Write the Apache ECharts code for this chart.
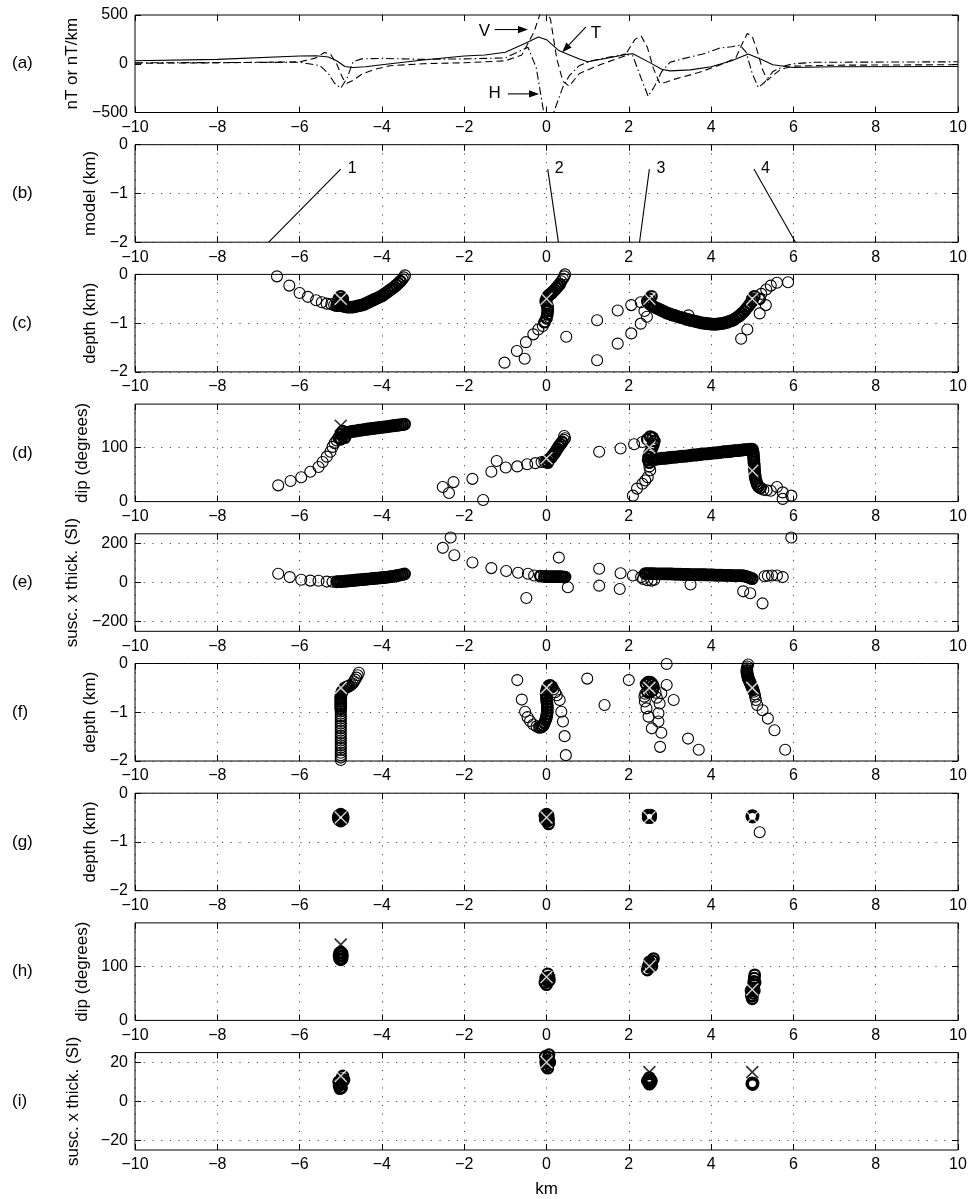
<!DOCTYPE html>
<html><head><meta charset="utf-8">
<script src="https://cdn.jsdelivr.net/npm/echarts@6/dist/echarts.min.js"></script>
<style>html,body{margin:0;padding:0;background:#fff}#c{width:970px;height:1199px}</style>
</head><body><div id="c"></div><script>
// ---------------- DATA ----------------
// (a) anomalies: T (solid), V (dashed), H (dash-dot)
const aTx = [-10,-8,-6,-5.6,-5.3,-5.1,-4.9,-4.7,-4.4,-4,-3,-2,-1.5,-1,-0.5,-0.2,0,0.3,0.5,0.8,1,1.5,2,2.1,2.5,2.8,3,3.5,4,4.5,4.9,5.2,5.5,6,7,10];
const aTy = [30,45,80,82,70,31,-28,-38,-31,-10,38,80,90,118,212,274,247,135,100,49,21,59,100,103,14,-56,-73,-63,-31,31,100,49,-10,-38,-30,-28];
const aVx = [-10,-8,-6,-5.6,-5.4,-5.25,-5.1,-4.95,-4.85,-4.7,-4.5,-4.2,-3.8,-3,-2,-1.5,-1,-0.6,-0.3,-0.15,0,0.1,0.25,0.4,0.55,0.8,1.3,1.9,2.15,2.3,2.45,2.6,2.75,2.9,3.1,3.7,4.3,4.6,4.75,4.88,5.0,5.12,5.25,5.37,5.5,5.7,6,7,10];
const aVy = [5,10,20,60,115,100,0,-150,-200,-170,-110,-60,-20,0,10,20,30,90,330,520,560,450,50,-180,-230,-100,-10,80,250,285,170,-50,-200,-190,-160,-90,0,60,200,310,280,135,-60,-170,-120,-55,-25,-15,-10];
const aHx = [-10,-8,-6,-5.5,-5.3,-5.15,-5.0,-4.85,-4.7,-4.5,-4,-3,-2,-1,-0.6,-0.45,-0.25,-0.05,0.14,0.39,0.55,0.79,1.1,1.5,1.9,2.1,2.3,2.47,2.6,2.8,3.0,3.3,3.8,4.2,4.5,4.7,4.85,5.0,5.15,5.3,5.5,5.8,6,6.5,10];
const aHy = [10,12,15,-20,-100,-200,-250,-150,20,50,55,45,50,60,140,170,-40,-540,-540,-247,-125,-21,31,66,100,80,-150,-333,-250,-80,15,50,100,160,175,190,120,-100,-245,-190,-80,-20,0,15,20];
const aLabels = ['V','T','H'];
const aLabelPos = [[-1.51,330],[1.2,309],[-1.26,-300]];
const aArrows = [[[-1.26,351],[-0.45,351]],[[0.96,378],[0.38,118]],[[-0.94,-309],[-0.18,-309]]];

// (b) model: bottom and top ends of the 4 dikes
const bModel = [[[-6.75,-2],[-5.0,-0.5]],[[0.29,-2],[0.03,-0.5]],[[2.26,-2],[2.5,-0.5]],[[6.05,-2],[5.04,-0.5]]];
const bNames = ['1','2','3','4'];

// true sources
const srcX = [-5, 0, 2.5, 5];
const srcDepth = [-0.5,-0.5,-0.5,-0.5];
const srcDip = [140, 80, 100, 57];
const srcSt = [13, 20, 15, 15];

// (c) depth estimates: scattered and densely overlapping
const cPts = [[-6.55,-0.04],[-6.25,-0.23],[-6.0,-0.38],[-5.8,-0.46],[-5.6,-0.53],[-5.46,-0.57],[-5.34,-0.6],[-5.23,-0.61],[-5.16,-0.63],
[-3.5,-0.1],[-3.47,-0.06],[-3.44,-0.02],
[-1.02,-1.81],[-0.72,-1.57],[-0.53,-1.73],[-0.5,-1.39],[-0.32,-1.23],[-0.2,-1.13],[-0.09,-1.06],[0.48,-1.28],[0.36,-0.14],[0.4,-0.09],[0.43,-0.04],[0.45,0.0],
[1.23,-1.76],[1.23,-0.94],[1.73,-0.74],[1.73,-1.42],[2.06,-1.21],[2.06,-0.63],[2.29,-1.01],[2.29,-0.57],[2.44,-0.87],[2.38,-0.75],
[5.22,-0.4],[5.34,-0.31],[5.45,-0.23],[5.6,-0.17],[5.87,-0.16],[5.33,-0.63],[5.18,-0.8],[4.88,-1.13],[4.73,-1.32],[3.45,-0.84]];
const cBand = [[-5.1,-0.64],[-5.05,-0.5],[-5.0,-0.45],[-4.95,-0.5],[-5.0,-0.55],[-4.95,-0.6],
[-5.05,-0.62],[-5.0,-0.64],[-4.95,-0.65],[-4.9,-0.66],[-4.85,-0.67],[-4.8,-0.67],[-4.75,-0.67],[-4.7,-0.67],[-4.65,-0.66],[-4.6,-0.65],[-4.55,-0.64],[-4.5,-0.63],[-4.45,-0.62],[-4.4,-0.6],[-4.35,-0.58],[-4.3,-0.56],[-4.25,-0.54],[-4.2,-0.52],[-4.15,-0.5],[-4.1,-0.48],[-4.05,-0.46],[-4.0,-0.44],[-3.95,-0.41],[-3.9,-0.38],[-3.85,-0.35],[-3.8,-0.32],[-3.75,-0.29],[-3.7,-0.26],[-3.65,-0.22],[-3.6,-0.18],[-3.55,-0.14],
[-0.05,-0.98],[0.0,-0.9],[0.02,-0.82],[0.03,-0.75],[0.03,-0.7],[0.02,-0.65],[0.0,-0.6],[-0.02,-0.55],[0.0,-0.5],[0.03,-0.45],[0.07,-0.42],[0.1,-0.4],[0.13,-0.38],[0.16,-0.35],[0.2,-0.32],[0.24,-0.28],[0.28,-0.24],[0.32,-0.2],
[2.45,-0.55],[2.5,-0.5],[2.55,-0.45],[2.5,-0.6],
[2.55,-0.63],[2.6,-0.66],[2.65,-0.68],[2.7,-0.7],[2.75,-0.72],[2.8,-0.74],[2.85,-0.76],[2.9,-0.78],[2.95,-0.8],[3.0,-0.81],[3.05,-0.83],[3.1,-0.84],[3.15,-0.85],[3.2,-0.87],[3.25,-0.88],[3.3,-0.89],[3.35,-0.9],[3.4,-0.92],[3.45,-0.93],[3.5,-0.94],[3.55,-0.95],[3.6,-0.96],[3.65,-0.97],[3.7,-0.98],[3.75,-0.99],[3.8,-1.0],[3.85,-1.0],[3.9,-1.01],[3.95,-1.01],[4.0,-1.02],[4.05,-1.02],[4.1,-1.02],[4.15,-1.02],[4.2,-1.01],[4.25,-1.01],[4.3,-1.0],[4.35,-0.99],[4.4,-0.98],[4.45,-0.96],[4.5,-0.95],[4.55,-0.93],[4.6,-0.9],[4.65,-0.87],[4.7,-0.84],[4.75,-0.8],[4.8,-0.76],[4.85,-0.71],[4.9,-0.66],[4.95,-0.6],[5.0,-0.55],[5.0,-0.5],[5.05,-0.45],[5.18,-0.5]];

// (d) dip estimates
const dPts = [[-6.52,30],[-6.22,38],[-5.96,45],[-5.74,55],[-5.54,64],[-5.44,73],[-5.34,83],[-5.25,92],[-5.2,101],[-5.15,108],[-5.1,113],
[-2.52,27],[-2.37,16],[-2.26,36],[-1.8,42],[-1.54,3],[-1.34,55],[-1.21,75],[-0.99,63],[-0.71,65],[-0.47,69],[-0.27,71],[-0.12,73],[-0.05,74],[0.42,114],[0.45,117],[0.43,121],
[1.28,92],[1.8,98],[2.13,106],[2.33,110],
[5.27,22],[5.35,21],[5.45,20],
[2.52,58],[2.5,65],[2.46,45],[2.4,39],[2.33,33],[2.2,24],[2.1,11],
[5.6,27],[5.74,17],[5.95,11],[5.74,5]];
const dBand = [[-5.05,118],[-5.0,115],[-4.95,120],[-5.0,125],[-4.95,130],[-4.9,125],[-4.9,118],
[-4.85,127],[-4.8,128],[-4.75,129],[-4.7,130],[-4.65,130],[-4.6,131],[-4.55,132],[-4.5,132],[-4.45,133],[-4.4,133],[-4.35,134],[-4.3,134],[-4.25,135],[-4.2,135],[-4.15,136],[-4.1,136],[-4.05,137],[-4.0,137],[-3.95,138],[-3.9,138],[-3.85,139],[-3.8,139],[-3.75,140],[-3.7,140],[-3.65,141],[-3.6,141],[-3.55,142],[-3.5,142],[-3.45,143],
[0.0,75],[0.03,72],[0.06,78],[0.1,80],[0.14,84],[0.18,88],[0.22,92],[0.26,97],[0.3,102],[0.34,106],[0.38,110],
[2.45,115],[2.52,120],[2.58,118],[2.62,112],[2.6,106],[2.57,100],[2.54,94],[2.5,88],[2.48,82],[2.47,77],[2.5,72],
[2.55,78],[2.6,78],[2.65,78],[2.7,79],[2.75,79],[2.8,80],[2.85,80],[2.9,80],[2.95,81],[3.0,81],[3.05,82],[3.1,82],[3.15,82],[3.2,83],[3.25,83],[3.3,84],[3.35,84],[3.4,84],[3.45,85],[3.5,85],[3.55,86],[3.6,86],[3.65,86],[3.7,87],[3.75,87],[3.8,88],[3.85,88],[3.9,88],[3.95,89],[4.0,89],[4.05,90],[4.1,90],[4.15,90],[4.2,91],[4.25,91],[4.3,92],[4.35,92],[4.4,92],[4.45,93],[4.5,93],[4.55,94],[4.6,94],[4.65,94],[4.7,95],[4.75,95],[4.8,96],[4.85,96],[4.9,96],[4.95,97],[5.0,97],
[5.02,92],[5.03,87],[5.03,82],[5.04,77],[5.04,72],[5.05,67],[5.05,62],[5.06,57],[5.06,52],[5.07,47],[5.08,42],[5.1,37],[5.12,32],[5.15,28],[5.2,25]];

// (e) susceptibility x thickness estimates
const ePts = [[-6.52,45],[-6.24,28],[-5.96,14],[-5.74,10],[-5.54,9],[-5.34,5],[-5.2,4],
[-2.33,231],[-2.52,178],[-2.24,140],[-1.8,103],[-1.34,74],[-0.98,59],[-0.69,50],[-0.45,45],[-0.3,36],[-0.49,-79],[0.3,128],[0.52,-24],
[1.28,71],[1.28,-16],[1.8,48],[1.78,-33],[2.1,36],[2.3,28],[2.35,18],[2.45,12],[2.55,10],[2.62,14],
[3.5,-10],[4.78,-45],[4.95,-55],[5.25,-107],[5.3,32],[5.38,35],[5.48,36],[5.6,36],[5.74,28],[5.95,231]];
const eBand = [[-5.1,4],[-5.05,5],[-5.0,5],[-4.95,6],[-4.9,7],[-4.85,8],[-4.8,9],[-4.75,10],[-4.7,11],[-4.65,12],[-4.6,13],[-4.55,14],[-4.5,15],[-4.45,16],[-4.4,17],[-4.35,18],[-4.3,19],[-4.25,20],[-4.2,21],[-4.15,22],[-4.1,23],[-4.05,24],[-4.0,25],[-3.95,26],[-3.9,27],[-3.85,28],[-3.8,30],[-3.75,31],[-3.7,33],[-3.65,35],[-3.6,37],[-3.55,39],[-3.5,41],[-3.45,44],
[-0.15,33],[-0.05,31],[0.0,30],[0.05,30],[0.1,30],[0.15,30],[0.2,30],[0.25,30],[0.3,30],[0.35,30],[0.4,29],[0.45,28],
[2.4,46],[2.45,46],[2.5,46],[2.55,46],[2.6,46],[2.65,45],[2.7,45],[2.75,45],[2.8,45],[2.85,45],[2.9,44],[2.95,44],[3.0,44],[3.05,44],[3.1,43],[3.15,43],[3.2,43],[3.25,43],[3.3,42],[3.35,42],[3.4,42],[3.45,42],[3.5,41],[3.55,41],[3.6,41],[3.65,41],[3.7,40],[3.75,40],[3.8,40],[3.85,40],[3.9,39],[3.95,39],[4.0,39],[4.05,39],[4.1,38],[4.15,38],[4.2,38],[4.25,38],[4.3,37],[4.35,37],[4.4,37],[4.45,37],[4.5,36],[4.55,36],[4.6,36],[4.65,36],[4.7,36],[4.75,35],[4.8,34],[4.85,32],[4.9,28],[4.95,24],[5.0,20]];

// (f) depth estimates (second method)
const fPts = [[-5.0,-1.98],[-5.0,-1.93],[-5.0,-1.88],[-5.0,-1.83],[-5.0,-1.78],[-5.0,-1.73],[-5.0,-1.68],[-5.0,-1.63],[-5.0,-1.58],[-5.0,-1.53],[-5.0,-1.48],[-5.0,-1.43],[-5.0,-1.38],[-5.0,-1.33],[-5.0,-1.28],[-5.0,-1.23],[-5.0,-1.18],[-5.0,-1.13],[-5.0,-1.08],[-5.0,-1.03],[-5.0,-0.98],
[-4.75,-0.44],[-4.71,-0.41],[-4.68,-0.37],[-4.65,-0.33],[-4.62,-0.29],[-4.59,-0.24],[-4.56,-0.19],
[-0.71,-0.34],[-0.6,-0.74],[-0.52,-0.99],[-0.46,-1.1],[-0.4,-1.18],[-0.32,-1.25],[-0.24,-1.29],[0.17,-0.53],[0.21,-0.59],[0.25,-0.65],[0.32,-0.75],[0.36,-0.99],[0.4,-1.19],[0.44,-1.49],[0.47,-1.88],[0.99,-0.31],[1.41,-0.85],
[2.0,-0.34],[2.92,-0.01],[2.4,-0.62],[2.38,-0.68],[2.39,-0.78],[2.43,-0.92],[2.48,-1.09],[2.56,-1.33],[2.79,-1.42],[2.76,-1.71],[2.72,-1.19],[2.72,-1.02],[2.75,-0.82],[2.79,-0.61],[2.92,-0.44],[3.09,-0.75],[3.44,-1.54],[3.7,-1.77],[2.65,-0.6],[2.68,-0.7],
[4.9,-0.02],[4.88,-0.06],[4.87,-0.1],[5.04,-0.58],[5.06,-0.63],[5.07,-0.68],[5.09,-0.75],[5.12,-0.85],[5.25,-0.96],[5.38,-1.13],[5.54,-1.37],[5.8,-1.77]];
const fBand = [[-5.0,-0.93],[-5.0,-0.88],[-5.0,-0.83],[-5.0,-0.78],[-5.0,-0.73],[-5.0,-0.68],[-4.99,-0.63],[-4.97,-0.58],[-4.94,-0.54],[-4.9,-0.5],[-4.85,-0.48],[-4.8,-0.46],
[-0.17,-1.31],[-0.12,-1.3],[-0.08,-1.27],[-0.05,-1.22],[-0.02,-1.16],[0.0,-1.1],[0.01,-1.04],[0.02,-0.98],[0.02,-0.92],[0.02,-0.86],[0.01,-0.8],[0.0,-0.74],[0.0,-0.68],[-0.01,-0.62],[0.0,-0.56],[0.02,-0.5],[0.05,-0.46],[0.09,-0.45],[0.13,-0.48],
[2.42,-0.42],[2.47,-0.38],[2.52,-0.38],[2.57,-0.42],[2.6,-0.48],[2.58,-0.55],[2.52,-0.58],[2.45,-0.58],
[4.87,-0.14],[4.87,-0.18],[4.88,-0.22],[4.89,-0.26],[4.9,-0.3],[4.92,-0.34],[4.94,-0.38],[4.96,-0.42],[4.98,-0.46],[5.0,-0.5],[5.02,-0.54]];

// (g) depth (final)
const gPts = [[5.18,-0.8]];
const gBand = [[-5.05,-0.46],[-4.95,-0.46],[-5.0,-0.43],[-5.05,-0.54],[-4.95,-0.54],[-5.0,-0.57],[-5.0,-0.5],[-5.06,-0.5],[-4.94,-0.5],
[-0.04,-0.46],[0.04,-0.46],[0.0,-0.43],[-0.03,-0.54],[0.05,-0.54],[0.02,-0.58],[0.05,-0.63],[0.0,-0.5],
[2.47,-0.45],[2.53,-0.45],[2.5,-0.47],[2.47,-0.5],[2.53,-0.5],
[5.0,-0.46],[5.02,-0.47],[4.99,-0.48],[5.01,-0.49]];

// (h) dip (final)
const hBand = [[-5.0,112],[-5.0,126],[-5.04,119],[-4.96,119],[-5.03,114],[-4.97,124],[-5.03,124],[-4.97,114],
[-0.04,70],[0.04,72],[0.0,66],[0.06,80],[-0.02,78],[0.03,86],[0.07,74],[0.0,75],
[2.45,93],[2.49,98],[2.53,104],[2.57,110],[2.6,114],[2.5,108],[2.56,100],[2.47,100],
[5.0,40],[5.0,45],[5.01,50],[5.01,55],[5.02,60],[5.03,66],[5.04,72],[5.05,78],[5.06,84],[4.97,55],[5.05,55],[4.98,45],[5.07,70]];

// (i) susc x thick (final)
const iBand = [[-4.95,13],[-4.92,11],[-4.98,11.5],[-5.0,9],[-5.04,8],[-5.02,6.5],[-4.98,7],[-4.97,10],[-5.05,10],
[0.0,18],[0.04,19],[0.02,21],[0.05,22.5],[0.06,24],[-0.02,20],[-0.03,23],[0.08,20],[0.03,17],
[2.48,10],[2.52,11],[2.5,10.5],[2.53,9.5],[2.45,10.5],[2.55,10.5],[2.5,8.8],[2.5,12.2],
[4.99,9],[5.01,8.6],[5.0,9.4],[5.02,9.2]];

// axis ticks
const xTickInterval = 2;
const yTicks = {
  a:[-500,0,500], b:[-2,-1,0], c:[-2,-1,0], d:[0,100], e:[-200,0,200],
  f:[-2,-1,0], g:[-2,-1,0], h:[0,100], i:[-20,0,20]
};
const yRange = {a:[-500,500], b:[-2,0], c:[-2,0], d:[0,180], e:[-250,250], f:[-2,0], g:[-2,0], h:[0,180], i:[-25,25]};
const yNames = {a:'nT or nT/km', b:'model (km)', c:'depth (km)', d:'dip (degrees)', e:'susc. x thick. (SI)',
  f:'depth (km)', g:'depth (km)', h:'dip (degrees)', i:'susc. x thick. (SI)'};

// ---------------- STYLE / LAYOUT ----------------
const FONT = 'Liberation Sans, Arial, Helvetica, sans-serif';
const panels = ['a','b','c','d','e','f','g','h','i'];
const LEFT = 135, RIGHT = 12, PH = 97.5;
const topOf = k => 15 + 129.7*k;
const nameGap = {a:51, b:30, c:30, d:40, e:49, f:30, g:30, h:40, i:53};
const xWhite = {c:[1,1,1,1], d:[0,1,1,1], f:[1,1,1,1], g:[1,1,1,1], h:[0,1,1,1], i:[1,1,0,0]};
const fmt = v => String(v).replace('-', '\u2212');
const dotted = {color:'#222', width:0.8, type:[1.2,7.5]};
const tickStyle = {show:true, inside:true, length:6, lineStyle:{color:'#000', width:1}};

const option = {
  animation:false,
  backgroundColor:'#fff',
  textStyle:{fontFamily:FONT, color:'#000'},
  grid:[], xAxis:[], yAxis:[], series:[], graphic:[]
};

panels.forEach((p,k) => {
  const top = topOf(k);
  option.grid.push({left:LEFT, right:RIGHT, top:top, height:PH, show:true, borderColor:'#000', borderWidth:1, backgroundColor:'rgba(0,0,0,0)'});
  const grid = p !== 'a';
  option.xAxis.push({gridIndex:k, type:'value', min:-10, max:10, interval:xTickInterval, position:'bottom',
    axisLine:{show:false, onZero:false}, axisTick:tickStyle,
    axisLabel:{show:true, formatter:fmt, fontSize:16, margin:7, color:'#000', fontFamily:FONT},
    splitLine:{show:grid, lineStyle:dotted},
    name: p==='i' ? 'km' : '', nameLocation:'middle', nameGap:31,
    nameTextStyle:{fontSize:17, color:'#000', fontFamily:FONT}});
  option.xAxis.push({gridIndex:k, type:'value', min:-10, max:10, interval:xTickInterval, position:'top',
    axisLine:{show:false, onZero:false}, axisTick:tickStyle, axisLabel:{show:false}, splitLine:{show:false}});
  option.yAxis.push({gridIndex:k, type:'value', min:yRange[p][0], max:yRange[p][1], position:'left',
    axisLine:{show:false, onZero:false},
    axisTick:Object.assign({customValues:yTicks[p]}, tickStyle),
    axisLabel:{show:true, customValues:yTicks[p], formatter:fmt, fontSize:16, margin:7, color:'#000', fontFamily:FONT},
    splitLine:{show:grid, lineStyle:dotted},
    name:yNames[p], nameLocation:'middle', nameGap:nameGap[p],
    nameTextStyle:{fontSize:17, color:'#000', fontFamily:FONT}});
  option.yAxis.push({gridIndex:k, type:'value', min:yRange[p][0], max:yRange[p][1], position:'right',
    axisLine:{show:false, onZero:false},
    axisTick:Object.assign({customValues:yTicks[p]}, tickStyle),
    axisLabel:{show:false}, splitLine:{show:false}});
  option.graphic.push({type:'text', x:12, y:top + PH/2,
    style:{text:'('+p+')', fontSize:17, fontFamily:FONT, fill:'#000', verticalAlign:'middle', align:'left'}});
});

const ax = k => ({xAxisIndex:2*k, yAxisIndex:2*k});
const zip = (xs, ys) => xs.map((x,i) => [x, ys[i]]);

// (a)
option.series.push(Object.assign({type:'line', data:zip(aTx,aTy), symbol:'none', silent:true,
  lineStyle:{color:'#000', width:1.1, type:'solid'},
  markPoint:{silent:true, symbol:'circle', symbolSize:0,
    label:{show:true, position:'inside', formatter:q => q.name, fontSize:17, color:'#000', fontFamily:FONT},
    data:aLabels.map((n,i) => ({name:n, coord:aLabelPos[i]}))}
}, ax(0)));
option.series.push(Object.assign({type:'line', data:zip(aVx,aVy), symbol:'none', silent:true,
  lineStyle:{color:'#000', width:1.1, type:[7,4]}}, ax(0)));
option.series.push(Object.assign({type:'line', data:zip(aHx,aHy), symbol:'none', silent:true,
  lineStyle:{color:'#000', width:1.1, type:[8,3,1.5,3]}}, ax(0)));

// (b)
bModel.forEach((seg,i) => {
  option.series.push(Object.assign({type:'line', data:seg, symbol:'none', silent:true, name:bNames[i],
    lineStyle:{color:'#000', width:1.1},
    endLabel:{show:true, formatter:bNames[i], distance:7, fontSize:16, color:'#000', fontFamily:FONT}}, ax(1)));
});

// scatter panels
const circ = {type:'scatter', symbol:'circle', symbolSize:11, silent:true, z:2,
  itemStyle:{color:'rgba(0,0,0,0)', borderColor:'#000', borderWidth:1.1, opacity:1}};
const circDense = {type:'scatter', symbol:'circle', symbolSize:10.5, silent:true, z:3,
  itemStyle:{color:'rgba(0,0,0,0)', borderColor:'#000', borderWidth:2.3, opacity:1}};
const XSYM = 'path://M0,0L10,10M10,0L0,10';
const srcVals = {c:srcDepth, d:srcDip, f:srcDepth, g:srcDepth, h:srcDip, i:srcSt};
const pts = {c:cPts, d:dPts, e:ePts, f:fPts, g:gPts};
const bands = {c:cBand, d:dBand, e:eBand, f:fBand, g:gBand, h:hBand, i:iBand};
panels.forEach((p,k) => {
  if (pts[p]) option.series.push(Object.assign({}, circ, {data:pts[p]}, ax(k)));
  if (bands[p]) option.series.push(Object.assign({}, circDense, {data:bands[p]}, ax(k)));
  if (srcVals[p]) {
    [1,0].forEach(w => {
      const d = srcX.map((x,j) => [x, srcVals[p][j]]).filter((_,j) => xWhite[p][j] === w);
      if (!d.length) return;
      option.series.push(Object.assign({type:'scatter', symbol:XSYM, symbolSize:12, silent:true, z:5, data:d,
        itemStyle:{color:'rgba(0,0,0,0)', borderColor: w ? '#fff' : '#000', borderWidth: w ? 1.5 : 1.7}}, ax(k)));
    });
  }
});

const chart = echarts.init(document.getElementById('c'), null, {width:970, height:1199});
chart.setOption(option);

// annotation arrows in panel (a), placed through the axes' own scales
const arrowEls = aArrows.map(a => {
  const p0 = chart.convertToPixel({xAxisIndex:0, yAxisIndex:0}, a[0]);
  const p1 = chart.convertToPixel({xAxisIndex:0, yAxisIndex:0}, a[1]);
  const dx = p1[0]-p0[0], dy = p1[1]-p0[1], len = Math.hypot(dx,dy);
  const ux = dx/len, uy = dy/len, L = 10, W = 3.6;
  const bx = p1[0]-ux*L, by = p1[1]-uy*L;
  return {type:'group', children:[
    {type:'line', shape:{x1:p0[0], y1:p0[1], x2:bx, y2:by}, style:{stroke:'#000', lineWidth:1.1}},
    {type:'polygon', shape:{points:[[p1[0],p1[1]],[bx-uy*W, by+ux*W],[bx+uy*W, by-ux*W]]}, style:{fill:'#000'}}
  ]};
});
chart.setOption({graphic: option.graphic.concat(arrowEls)});
</script></body></html>
